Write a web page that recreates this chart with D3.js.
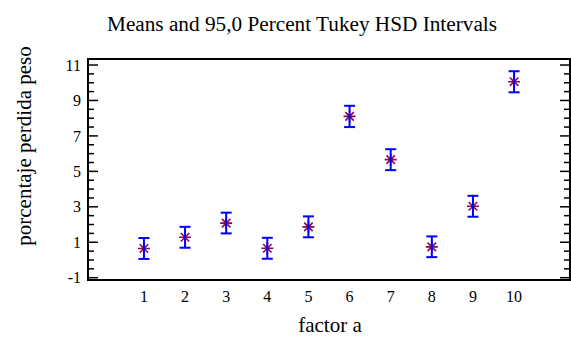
<!DOCTYPE html>
<html>
<head>
<meta charset="utf-8">
<script src="https://cdn.jsdelivr.net/npm/d3@7/dist/d3.min.js"></script>
<style>
  body { margin: 0; background: #fff; }
  svg { display: block; }
</style>
</head>
<body>
<div id="chart"></div>
<script>
// levels of factor a
const levels = [1, 2, 3, 4, 5, 6, 7, 8, 9, 10];
// group means
const means = [0.65, 1.28, 2.08, 0.66, 1.87, 8.1, 5.66, 0.74, 3.03, 10.06];
// Tukey HSD interval ends
const lower = [0.06, 0.69, 1.5, 0.07, 1.28, 7.5, 5.07, 0.16, 2.44, 9.46];
const upper = [1.24, 1.87, 2.67, 1.25, 2.46, 8.7, 6.25, 1.33, 3.62, 10.65];
const yTickValues = [-1, 1, 3, 5, 7, 9, 11];

const serif = '"Liberation Serif", "Times New Roman", "DejaVu Serif", serif';
const width = 571, height = 338;
const margin = {top: 59, right: 1, bottom: 58, left: 88};

const svg = d3.select('#chart').append('svg')
    .attr('width', width)
    .attr('height', height)
    .attr('font-family', serif);

const x = d3.scaleLinear()
    .domain([-0.36, 11.36])
    .range([margin.left, width - margin.right]);
const y = d3.scaleLinear()
    .domain([-1.13, 11.34])
    .range([height - margin.bottom, margin.top]);

// title
svg.append('text')
    .attr('x', 302)
    .attr('y', 31)
    .attr('text-anchor', 'middle')
    .attr('font-family', serif)
    .attr('font-size', 20)
    .attr('textLength', 390)
    .attr('lengthAdjust', 'spacingAndGlyphs')
    .text('Means and 95,0 Percent  Tukey HSD Intervals');

// minor ticks every 0.5
const minorTicks = d3.range(-1, 11.01, 0.5).filter(v => !yTickValues.includes(v));

const leftAxis = svg.append('g').attr('transform', `translate(${margin.left},0)`);
leftAxis.selectAll('.minor').data(minorTicks).enter().append('line')
    .attr('x1', 0).attr('x2', 6)
    .attr('y1', d => y(d)).attr('y2', d => y(d))
    .attr('stroke', '#000').attr('stroke-width', 1.5);
leftAxis.selectAll('.major').data(yTickValues).enter().append('line')
    .attr('x1', 0).attr('x2', 10)
    .attr('y1', d => y(d)).attr('y2', d => y(d))
    .attr('stroke', '#000').attr('stroke-width', 1.5);
leftAxis.selectAll('text').data(yTickValues).enter().append('text')
    .attr('x', -7)
    .attr('y', d => y(d))
    .attr('dy', '0.35em')
    .attr('text-anchor', 'end')
    .attr('font-family', serif)
    .attr('font-size', 16)
    .text(d => d);

const rightAxis = svg.append('g').attr('transform', `translate(${width - margin.right},0)`);
rightAxis.selectAll('.minor').data(minorTicks).enter().append('line')
    .attr('x1', 0).attr('x2', -6)
    .attr('y1', d => y(d)).attr('y2', d => y(d))
    .attr('stroke', '#000').attr('stroke-width', 1.5);
rightAxis.selectAll('.major').data(yTickValues).enter().append('line')
    .attr('x1', 0).attr('x2', -10)
    .attr('y1', d => y(d)).attr('y2', d => y(d))
    .attr('stroke', '#000').attr('stroke-width', 1.5);

// x tick labels, no tick marks
svg.append('g').selectAll('text').data(levels).enter().append('text')
    .attr('x', d => x(d))
    .attr('y', 302)
    .attr('text-anchor', 'middle')
    .attr('font-family', serif)
    .attr('font-size', 16)
    .text(d => d);

// frame
svg.append('rect')
    .attr('x', margin.left)
    .attr('y', margin.top)
    .attr('width', width - margin.left - margin.right)
    .attr('height', height - margin.top - margin.bottom)
    .attr('fill', 'none')
    .attr('stroke', '#000')
    .attr('stroke-width', 2);

// axis titles
svg.append('text')
    .attr('x', 330)
    .attr('y', 332)
    .attr('text-anchor', 'middle')
    .attr('font-family', serif)
    .attr('font-size', 21)
    .text('factor a');
svg.append('text')
    .attr('transform', `translate(31,146) rotate(-90)`)
    .attr('text-anchor', 'middle')
    .attr('font-family', serif)
    .attr('font-size', 21)
    .text('porcentaje perdida peso');

const groups = levels.map((d, i) => ({level: d, mean: means[i], lo: lower[i], hi: upper[i]}));

// 8-armed asterisk markers (drawn under the interval lines)
function starPath(r) {
  const p = d3.path();
  for (let a = 0; a < 4; a++) {
    const t = a * Math.PI / 4;
    p.moveTo(-r * Math.cos(t), -r * Math.sin(t));
    p.lineTo(r * Math.cos(t), r * Math.sin(t));
  }
  return p.toString();
}
svg.append('g').selectAll('path').data(groups).enter().append('path')
    .attr('transform', d => `translate(${x(d.level)},${y(d.mean)})`)
    .attr('d', starPath(6))
    .attr('fill', 'none')
    .attr('stroke', '#8b0a50')
    .attr('stroke-width', 1.6);

// intervals
const bars = svg.append('g').selectAll('g').data(groups).enter().append('g');
bars.append('line')
    .attr('x1', d => x(d.level)).attr('x2', d => x(d.level))
    .attr('y1', d => y(d.lo)).attr('y2', d => y(d.hi))
    .attr('stroke', '#0000ff').attr('stroke-width', 2);
['lo', 'hi'].forEach(k => {
  bars.append('line')
      .attr('x1', d => x(d.level) - 5.5).attr('x2', d => x(d.level) + 5.5)
      .attr('y1', d => y(d[k])).attr('y2', d => y(d[k]))
      .attr('stroke', '#0000ff').attr('stroke-width', 2);
});
</script>
</body>
</html>
